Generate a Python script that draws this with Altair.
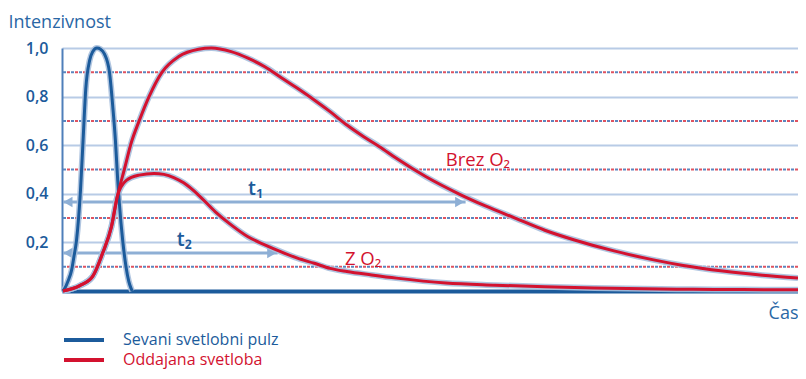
import altair as alt
import pandas as pd

# ---------------- data (time in arbitrary units 0..744, intensity 0..1) ----------------
SERIES = ["Sevani svetlobni pulz", "Oddajana svetloba"]
COLORS = ["#1c5b9b", "#d3122f"]

pulse_t = [1, 3, 6, 9.7, 12, 14.7, 18.7, 21.3, 24, 28, 31, 35.3, 39, 43, 48, 51.3, 54, 56.3,
           58, 61.3, 64.7, 67.5, 69.7, 71]
pulse_v = [0, 0.012, 0.04, 0.086, 0.14, 0.21, 0.415, 0.62, 0.83, 0.95, 0.985, 1.0, 0.995,
           0.975, 0.9, 0.76, 0.62, 0.457, 0.36, 0.21, 0.1, 0.04, 0.012, 0]

brez_t = [1, 18, 31, 41, 50, 56, 63, 70, 78, 88, 101, 118, 138, 151, 171, 188, 205, 221, 238,
          255, 271, 288, 305, 321, 338, 368, 401, 428, 458, 488, 518, 558, 598, 628, 668, 708, 744]
brez_v = [0, 0.022, 0.06, 0.155, 0.265, 0.39, 0.5, 0.61, 0.7, 0.8, 0.9, 0.965, 0.995, 1.0,
          0.985, 0.958, 0.923, 0.88, 0.834, 0.786, 0.738, 0.683, 0.635, 0.594, 0.546, 0.47, 0.4,
          0.35, 0.3, 0.25, 0.21, 0.165, 0.128, 0.105, 0.082, 0.065, 0.053]

z_t = [1, 18, 31, 41, 50, 56, 65, 78, 93, 103, 113, 123, 138, 155, 171, 188, 205, 221, 238,
       255, 271, 288, 313, 338, 388, 438, 488, 538, 588, 638, 688, 744]
z_v = [0, 0.022, 0.06, 0.155, 0.265, 0.39, 0.455, 0.477, 0.484, 0.48, 0.467, 0.445, 0.395,
       0.326, 0.272, 0.223, 0.19, 0.162, 0.135, 0.114, 0.093, 0.08, 0.066, 0.053, 0.033, 0.024,
       0.017, 0.012, 0.009, 0.007, 0.006, 0.005]

grid_levels = [0.2, 0.4, 0.6, 0.8, 1.0]
dotted_levels = [0.1, 0.3, 0.5, 0.7, 0.9]

arrow_names = ["t1", "t2"]
arrow_start = [1, 1]
arrow_end = [408, 218]
arrow_level = [0.366, 0.156]

label_text = ["t\u2081", "t\u2082", "Brez O\u2082", "Z O\u2082"]
label_kind = ["time", "time", "curve", "curve"]
label_t = [188, 116, 388, 286]
label_v = [0.395, 0.185, 0.514, 0.107]
label_color = ["#1c5b9b", "#1c5b9b", "#d3122f", "#d3122f"]

# ---------------- tables ----------------
rows = []
for name, series, ts, vs in [("pulse", SERIES[0], pulse_t, pulse_v),
                             ("brez", SERIES[1], brez_t, brez_v),
                             ("z", SERIES[1], z_t, z_v)]:
    for i, (t, v) in enumerate(zip(ts, vs)):
        rows.append({"curve": name, "series": series, "t": t, "v": v, "i": i})
curves = pd.DataFrame(rows)

dotted = pd.DataFrame({"v": dotted_levels})
arrows = pd.DataFrame({"name": arrow_names, "t": arrow_start, "t2": arrow_end, "v": arrow_level})
heads_left = pd.DataFrame({"t": [a + 5 for a in arrow_start], "v": arrow_level})
heads_right = pd.DataFrame({"t": [b - 6 for b in arrow_end], "v": arrow_level})
labels = pd.DataFrame({"text": label_text, "kind": label_kind, "t": label_t, "v": label_v,
                       "c": label_color})

FONT = "Open Sans"

x_enc = alt.X("t:Q", scale=alt.Scale(domain=[0, 744], nice=False, zero=False),
              axis=alt.Axis(title="Čas", labels=False, ticks=False, grid=False,
                            domainColor="#1c5b9b", domainWidth=4,
                            titleFont=FONT, titleFontSize=18, titleFontWeight="normal",
                            titleColor="#2a67a5", titleAlign="right", titleBaseline="alphabetic",
                            titleX=736, titleY=27))
y_enc = alt.Y("v:Q", scale=alt.Scale(domain=[0, 1], nice=False, zero=True),
              axis=alt.Axis(title="Intenzivnost", values=grid_levels, ticks=False,
                            labelExpr="replace(format(datum.value, '.1f'), '.', ',')",
                            labelFont=FONT, labelFontSize=16, labelFontWeight=600,
                            labelColor="#1c5b9b", labelPadding=14,
                            domainColor="#4f7fba", domainWidth=2,
                            grid=True, gridColor="#b8cbe6", gridWidth=2,
                            titleFont=FONT, titleFontSize=18, titleFontWeight="normal",
                            titleColor="#2a67a5", titleAngle=0, titleAlign="left",
                            titleBaseline="alphabetic", titleX=-54, titleY=-21))

dot_red = alt.Chart(dotted).mark_rule(color="#e0525f", strokeWidth=2, strokeDash=[3, 5]).encode(y=y_enc)
dot_blue = alt.Chart(dotted).mark_rule(color="#5a86bf", strokeWidth=2, strokeDash=[3, 5],
                                       strokeDashOffset=4).encode(y=y_enc)

arrow_lines = alt.Chart(arrows).mark_rule(color="#8eafd5", strokeWidth=3).encode(
    x=x_enc, x2="t2:Q", y=y_enc)
arrow_l = alt.Chart(heads_left).mark_point(shape="triangle-left", filled=True, size=110,
                                           color="#8eafd5", opacity=1).encode(x=x_enc, y=y_enc)
arrow_r = alt.Chart(heads_right).mark_point(shape="triangle-right", filled=True, size=110,
                                            color="#8eafd5", opacity=1).encode(x=x_enc, y=y_enc)

halo = alt.Chart(curves).mark_line(interpolate="monotone", strokeWidth=6, color="#a7bfdd",
                                   opacity=0.9).encode(
    x=x_enc, y=y_enc, detail="curve:N", order="i:Q")

lines = alt.Chart(curves).mark_line(interpolate="monotone", strokeWidth=3).encode(
    x=x_enc, y=y_enc, detail="curve:N", order="i:Q",
    color=alt.Color("series:N", scale=alt.Scale(domain=SERIES, range=COLORS),
                    legend=alt.Legend(title=None, orient="none", legendX=10, legendY=280,
                                      symbolType="M-2,0H2", symbolSize=400,
                                      symbolStrokeWidth=4, labelFont=FONT, labelFontSize=16,
                                      labelOffset=27, rowPadding=0, labelLimit=400,
                                      labelColor={"expr": "datum.label == 'Oddajana svetloba' ? '#d3122f' : '#1c5b9b'"})))

time_texts = alt.Chart(labels).transform_filter("datum.kind == 'time'").mark_text(
    align="left", baseline="alphabetic", font=FONT, fontSize=20, fontWeight=600).encode(
    x=x_enc, y=y_enc, text="text:N", color=alt.Color("c:N", scale=None))
curve_texts = alt.Chart(labels).transform_filter("datum.kind == 'curve'").mark_text(
    align="left", baseline="alphabetic", font=FONT, fontSize=18.5).encode(
    x=x_enc, y=y_enc, text="text:N", color=alt.Color("c:N", scale=None))

chart = alt.layer(dot_red, dot_blue, arrow_lines, arrow_l, arrow_r, halo, lines,
                  time_texts, curve_texts).properties(
    width=736, height=243,
    autosize=alt.AutoSizeParams(type="none"),
    padding={"left": 54, "top": 40, "right": 0, "bottom": 80},
).configure_view(strokeWidth=0)

chart.save("out.html", embed_options={"renderer": "svg", "actions": False})
